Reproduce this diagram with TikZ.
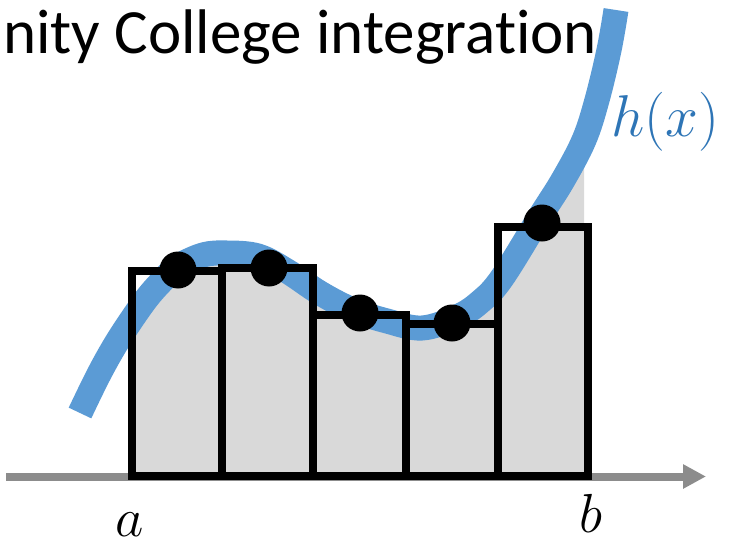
\RequirePackage{fix-cm}
\documentclass[tikz,border=0pt]{standalone}
\usepackage{fontspec}
\setmainfont{Carlito}[Ligatures={NoCommon,NoContextual}]
\usetikzlibrary{arrows.meta}
\definecolor{curveblue}{HTML}{5B9BD5}
\definecolor{labelblue}{HTML}{2E75B6}
\definecolor{areagray}{HTML}{D9D9D9}
\definecolor{axisgray}{HTML}{8C8C8C}
\begin{document}
\begin{tikzpicture}[x=1pt,y=-1pt,
  curve/.style={line width=25pt, draw=curveblue},
  bar/.style={draw=black, line width=8pt},
  dot/.style={circle, fill=black, inner sep=0pt, minimum size=37pt},
  axisline/.style={draw=axisgray, line width=8pt, -{Triangle[length=23pt,width=23pt]}},
  lbl/.style={font=\fontsize{55}{60}\selectfont, inner sep=0pt}]
\useasboundingbox (0,0) rectangle (743,548);
% area under the curve between a and b
\begin{scope}
\clip (132,0) rectangle (584,480);
\fill[areagray] plot[smooth,tension=0.6] coordinates {(80,413) (98,376) (114,347) (130,322) (147,298) (162,281) (177,267) (203,255) (227,253) (258,256) (287,271) (320,293) (353,310) (387,321) (422,328) (457,317) (480,302) (502,278) (541,215) (563,180) (584,140) (597,100) (609,50) (616,10)} -- (616,476) -- (80,476) -- cycle;
\end{scope}
% axis
\coordinate (axL) at (6,476.5);
\coordinate (axR) at (706,476.5);
\draw[axisline] (axL) -- (axR);
% title
\node[anchor=base west, inner sep=0pt, font=\fontsize{63}{70}\selectfont] (title) at (3,54) {nity College integration};
% curve
\draw[curve] plot[smooth,tension=0.6] coordinates {(80,413) (98,376) (114,347) (130,322) (147,298) (162,281) (177,267) (203,255) (227,253) (258,256) (287,271) (320,293) (353,310) (387,321) (422,328) (457,317) (480,302) (502,278) (541,215) (563,180) (584,140) (597,100) (609,50) (616,10)};
% bars
\draw[bar] (132,476) rectangle (222,271);
\draw[bar] (222,476) rectangle (313,267.5);
\draw[bar] (313,476) rectangle (406,314.5);
\draw[bar] (406,476) rectangle (498,324);
\draw[bar] (498,476) rectangle (588,227);
% sample points
\node[dot] (d1) at (178,270) {};
\node[dot] (d2) at (269,268) {};
\node[dot] (d3) at (360,313) {};
\node[dot] (d4) at (452,323) {};
\node[dot] (d5) at (542,223) {};
% labels
\node[lbl, anchor=base] (la) at (130,536) {$a$};
\node[lbl, anchor=base] (lb) at (591,532) {$b$};
\node[lbl, anchor=base west, text=labelblue, font=\fontsize{59}{64}\selectfont] (lh) at (611,137) {$h(x)$};
\end{tikzpicture}
\end{document}
